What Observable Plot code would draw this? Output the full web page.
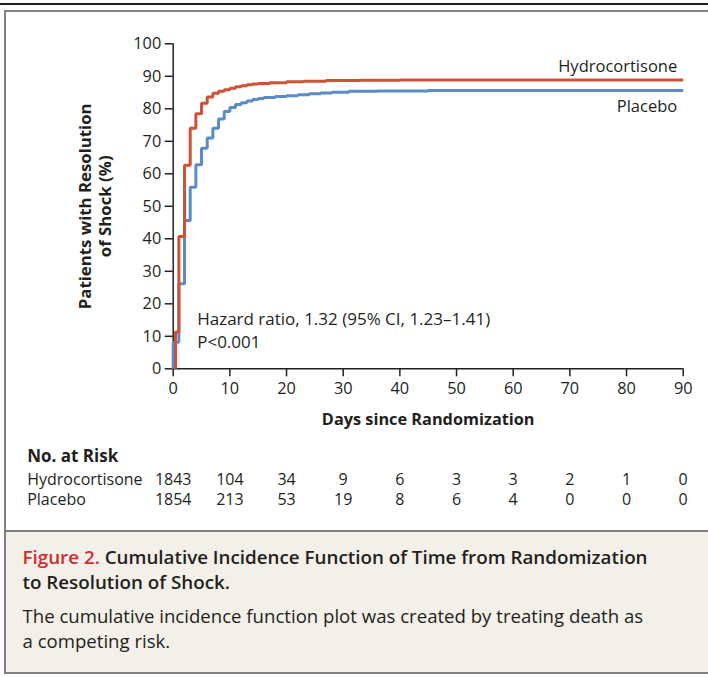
<!DOCTYPE html>
<html>
<head>
<meta charset="utf-8">
<script src="https://cdn.jsdelivr.net/npm/d3@7"></script>
<script src="https://cdn.jsdelivr.net/npm/@observablehq/plot@0.6"></script>
<style>
  html, body { margin: 0; padding: 0; background: #fff; }
  body { font-family: "Open Sans", "Noto Sans", sans-serif; color: #231f20; }
  #page { position: relative; width: 708px; height: 677px; overflow: hidden; }
  .topline { position: absolute; left: 0; top: 3px; width: 708px; height: 2px; background: #1e1e1e; }
  .frame { position: absolute; left: 4px; top: 10px; width: 720px; height: 521px; box-sizing: border-box;
           border-left: 2px solid #7f7f7f; border-top: 2px solid #7f7f7f; }
  .capbox { position: absolute; left: 4px; top: 530px; width: 720px; height: 144px; box-sizing: border-box;
            background: #f3f0e9; border-left: 2px solid #7f7f7f; border-top: 2px solid #7f7f7f; border-bottom: 2px solid #7f7f7f; }
  .captitle { position: absolute; left: 22.5px; top: 545.4px; font-size: 18.8px; font-weight: 600; line-height: 25px;
              white-space: nowrap; color: #231f20; }
  .captitle .fig { color: #d02a30; }
  .captext { position: absolute; left: 22.5px; top: 602.8px; font-size: 18.6px; line-height: 25px; white-space: nowrap; color: #231f20; }
  #chart, #risk { position: absolute; left: 0; }
  #chart { top: 0; }
  #risk { top: 440px; }
</style>
</head>
<body>
<div id="page">
  <div class="topline"></div>
  <div class="frame"></div>
  <div id="chart"></div>
  <div id="risk"></div>
  <div class="capbox"></div>
  <div class="captitle"><span class="fig">Figure 2.</span> Cumulative Incidence Function of Time from Randomization<br>to Resolution of Shock.</div>
  <div class="captext">The cumulative incidence function plot was created by treating death as<br>a competing risk.</div>
</div>
<script>
// ---- Data ----
const groups = ["Hydrocortisone", "Placebo"];
const groupColors = ["#cd5236", "#5b8bc9"];

const hydroDays = [0.4, 0.4, 1, 2, 3, 4, 5, 6, 7, 8, 9, 10, 11, 12, 13, 14, 15, 17, 20, 23, 27, 33, 40, 90];
const hydroPct  = [0, 11.3, 40.7, 62.6, 74.0, 78.5, 81.7, 83.6, 84.8, 85.4, 85.9, 86.3, 86.8, 87.1, 87.4, 87.6, 87.8, 88.0, 88.3, 88.5, 88.7, 88.8, 88.9, 88.9];

const placeboDays = [0, 0, 1, 2, 3, 4, 5, 6, 7, 8, 9, 10, 11, 12, 13, 14, 15, 16, 18, 20, 22, 24, 26, 28, 31, 36, 45, 90];
const placeboPct  = [0, 8.2, 26.2, 45.6, 55.9, 62.8, 67.9, 71.0, 74.0, 76.9, 79.2, 80.4, 81.3, 81.9, 82.4, 82.9, 83.2, 83.5, 83.8, 84.0, 84.3, 84.6, 84.9, 85.1, 85.4, 85.5, 85.6, 85.6];

const xTicks = [0, 10, 20, 30, 40, 50, 60, 70, 80, 90];
const yTicks = [0, 10, 20, 30, 40, 50, 60, 70, 80, 90, 100];

const riskDays    = [0, 10, 20, 30, 40, 50, 60, 70, 80, 90];
const hydroRisk   = [1843, 104, 34, 9, 6, 3, 3, 2, 1, 0];
const placeboRisk = [1854, 213, 53, 19, 8, 6, 4, 0, 0, 0];

const xLabel = "Days since Randomization";
const yLabel = "Patients with Resolution\nof Shock (%)";
const hazardText = "Hazard ratio, 1.32 (95% CI, 1.23\u20131.41)\nP<0.001";
const riskTitle = "No. at Risk";

// ---- Build tables ----
const curves = [
  ...placeboDays.map((d, i) => ({group: "Placebo", day: d, pct: placeboPct[i]})),
  ...hydroDays.map((d, i) => ({group: "Hydrocortisone", day: d, pct: hydroPct[i]}))
];
const ends = [
  {group: "Hydrocortisone", day: hydroDays[hydroDays.length - 1], pct: hydroPct[hydroPct.length - 1]},
  {group: "Placebo", day: placeboDays[placeboDays.length - 1], pct: placeboPct[placeboPct.length - 1]}
];
const riskRows = [
  ...riskDays.map((d, i) => ({group: "Hydrocortisone", day: d, n: hydroRisk[i]})),
  ...riskDays.map((d, i) => ({group: "Placebo", day: d, n: placeboRisk[i]}))
];

const baseStyle = {
  fontFamily: "'Open Sans', 'Noto Sans', sans-serif",
  fontSize: "16px",
  color: "#231f20",
  background: "transparent",
  overflow: "visible"
};

const chart = Plot.plot({
  width: 708,
  height: 440,
  marginTop: 43.3,
  marginBottom: 71.7,
  marginLeft: 172.7,
  marginRight: 25.3,
  style: baseStyle,
  x: {domain: [0, 90]},
  y: {domain: [0, 100]},
  color: {domain: groups, range: groupColors},
  marks: [
    Plot.axisY({ticks: yTicks, tickSize: 8, tickPadding: 4, strokeWidth: 1.5, label: null, fontSize: 16.3}),
    Plot.axisX({ticks: xTicks, tickSize: 8, tickPadding: 5.5, strokeWidth: 1.5, label: null, fontSize: 16.3}),
    Plot.ruleX([0], {strokeWidth: 1.5}),
    Plot.ruleY([0], {strokeWidth: 1.5}),
    Plot.line(curves, {x: "day", y: "pct", z: "group", stroke: "group", curve: "step-after",
                       strokeWidth: 3, strokeLinejoin: "miter", strokeLinecap: "butt"}),
    Plot.text(ends, {filter: d => d.group === "Hydrocortisone", x: "day", y: "pct", text: "group",
                     textAnchor: "end", dx: -6, dy: -13, fontSize: 16.5}),
    Plot.text(ends, {filter: d => d.group === "Placebo", x: "day", y: "pct", text: "group",
                     textAnchor: "end", dx: -6, dy: 16.3, fontSize: 16.5}),
    Plot.text([hazardText], {frameAnchor: "bottom-left", dx: 24, dy: -60.4, textAnchor: "start",
                             lineAnchor: "top", lineHeight: 1.37, fontSize: 17}),
    Plot.text([xLabel], {frameAnchor: "bottom", dy: 45.1, lineAnchor: "top", fontWeight: "bold", fontSize: 16.3}),
    Plot.text([yLabel], {frameAnchor: "left", dx: -78.2, rotate: -90, textAnchor: "middle", lineAnchor: "middle",
                         lineHeight: 1.17, fontWeight: "bold", fontSize: 16.8})
  ]
});
document.getElementById("chart").appendChild(chart);

const risk = Plot.plot({
  width: 708,
  height: 90,
  marginTop: 0,
  marginBottom: 0,
  marginLeft: 172.7,
  marginRight: 25.3,
  style: baseStyle,
  x: {domain: [0, 90], axis: null},
  y: {type: "point", domain: groups, range: [39, 59], padding: 0, axis: null},
  marks: [
    Plot.text(riskRows, {x: "day", y: "group", text: d => String(d.n), fontSize: 16}),
    Plot.text(groups, {y: d => d, text: d => d, frameAnchor: "left", dx: -146, textAnchor: "start", fontSize: 16}),
    Plot.text([riskTitle], {frameAnchor: "top-left", dx: -146, dy: 9.6, textAnchor: "start", lineAnchor: "top",
                            fontWeight: "bold", fontSize: 17})
  ]
});
document.getElementById("risk").appendChild(risk);
</script>
</body>
</html>
